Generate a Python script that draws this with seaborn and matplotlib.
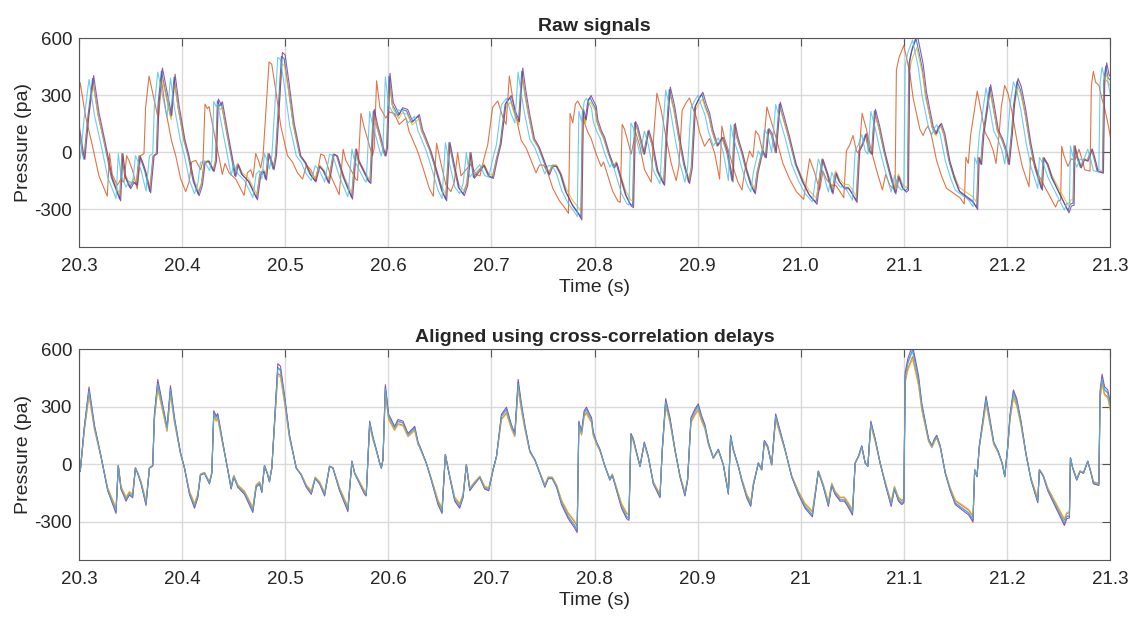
import numpy as np
import pandas as pd
import matplotlib
matplotlib.use("Agg")
import matplotlib.pyplot as plt
import seaborn as sns

# --- data (aligned trace = reference channel) ---
base_time = [
    20.293, 20.296, 20.299, 20.300, 20.3012, 20.3050, 20.3097, 20.3149, 20.3213, 20.3278,
    20.3359, 20.3381, 20.3407, 20.3456, 20.3488, 20.3520, 20.3547, 20.3569, 20.3602, 20.3650,
    20.3683, 20.3715, 20.3731, 20.3764, 20.3803, 20.3835, 20.3854, 20.3887, 20.3926, 20.3984,
    20.4023, 20.4071, 20.4120, 20.4152, 20.4178, 20.4217, 20.4265, 20.4288, 20.4307, 20.4330,
    20.4346, 20.4394, 20.4443, 20.4475, 20.4501, 20.4540, 20.4605, 20.4686, 20.4718, 20.4751,
    20.4773, 20.4799, 20.4825, 20.4847, 20.4870, 20.4896, 20.4928, 20.4954, 20.4993, 20.5042,
    20.5107, 20.5155, 20.5204, 20.5253, 20.5291, 20.5333, 20.5382, 20.5430, 20.5463, 20.5527,
    20.5608, 20.5647, 20.5673, 20.5721, 20.5770, 20.5786, 20.5819, 20.5851, 20.5883, 20.5916,
    20.5932, 20.5948, 20.5971, 20.6003, 20.6029, 20.6061, 20.6094, 20.6142, 20.6191, 20.6256,
    20.6288, 20.6304, 20.6368, 20.6417, 20.6482, 20.6521, 20.6553, 20.6595, 20.6644, 20.6692,
    20.6725, 20.6757, 20.6790, 20.6838, 20.6887, 20.6935, 20.6974, 20.7016, 20.7049, 20.7097,
    20.7146, 20.7194, 20.7227, 20.7259, 20.7291, 20.7324, 20.7373, 20.7421, 20.7470, 20.7518,
    20.7551, 20.7590, 20.7632, 20.7680, 20.7745, 20.7803, 20.7832, 20.7848, 20.7874, 20.7900,
    20.7922, 20.7945, 20.7971, 20.7987, 20.8020, 20.8052, 20.8101, 20.8149, 20.8172, 20.8214,
    20.8262, 20.8311, 20.8334, 20.8353, 20.8376, 20.8408, 20.8441, 20.8483, 20.8521, 20.8570,
    20.8619, 20.8635, 20.8657, 20.8690, 20.8732, 20.8780, 20.8829, 20.8877, 20.8903, 20.8935,
    20.8974, 20.9006, 20.9039, 20.9071, 20.9104, 20.9152, 20.9201, 20.9249, 20.9298, 20.9320,
    20.9346, 20.9395, 20.9427, 20.9476, 20.9515, 20.9541, 20.9589, 20.9621, 20.9647, 20.9679,
    20.9718, 20.9757, 20.9799, 20.9848, 20.9912, 20.9977, 21.0042, 21.0113, 21.0171, 21.0220,
    21.0268, 21.0301, 21.0333, 21.0382, 21.0424, 21.0456, 21.0502, 21.0528, 21.0560, 21.0592,
    21.0625, 21.0651, 21.0680, 21.0722, 21.0770, 21.0819, 21.0877, 21.0909, 21.0948, 21.0980,
    21.1000, 21.1013, 21.1039, 21.1062, 21.1084, 21.1110, 21.1143, 21.1175, 21.1207, 21.1240,
    21.1272, 21.1298, 21.1320, 21.1353, 21.1402, 21.1450, 21.1499, 21.1564, 21.1629, 21.1671,
    21.1687, 21.1710, 21.1732, 21.1765, 21.1797, 21.1830, 21.1872, 21.1914, 21.1953, 21.1979,
    21.2008, 21.2030, 21.2063, 21.2095, 21.2137, 21.2186, 21.2234, 21.2299, 21.2315, 21.2354,
    21.2396, 21.2444, 21.2509, 21.2557, 21.2580, 21.2606, 21.2616, 21.2638, 21.2677, 21.2709,
    21.2742, 21.2784, 21.2816, 21.2839, 21.2891, 21.2904, 21.2923, 21.2946, 21.2978, 21.3004,
    21.3030, 21.3060, 21.3090, 21.3120,
]
base_pressure = [
    200, 120, 20, -11, -37, 180, 383, 196, 40, -132,
    -245, -8, -124, -184, -153, -167, -20, -46, -98, -205,
    -20, -8, 248, 421, 318, 231, 183, 390, 231, 58,
    -20, -150, -219, -167, -55, -46, -98, -46, 266, 240,
    252, 110, -29, -124, -63, -115, -150, -240, -115, -98,
    -141, -8, -46, -89, -20, 214, 499, 487, 343, 144,
    -20, -55, -115, -150, -72, -98, -158, -11, -20, -132,
    -236, 15, -46, -98, -150, -158, 214, 136, 75, 6,
    -20, 23, 395, 248, 222, 188, 222, 214, 153, 188,
    110, 92, 6, -80, -201, -245, 49, -63, -184, -219,
    -167, -3, -132, -98, -67, -124, -132, -29, 40, 248,
    283, 196, 153, 421, 300, 196, 66, 23, -46, -115,
    -72, -72, -115, -201, -271, -314, -340, 214, 162, 266,
    283, 257, 231, 162, 110, 75, -11, -80, -55, -132,
    -219, -271, -279, 153, 127, 58, -11, 110, 40, -98,
    -150, -167, 75, 326, 231, 75, -63, -158, -80, 231,
    274, 300, 240, 196, 110, 32, 75, -3, -150, 144,
    75, -11, -80, -167, -210, -106, 6, -29, 118, 92,
    -3, 250, 170, 75, -63, -150, -219, -262, -37, -115,
    -210, -106, -150, -184, -184, -210, -253, 6, 40, 92,
    6, -11, 214, 127, 6, -98, -210, -124, -184, -201,
    -192, 456, 525, 559, 590, 525, 438, 300, 214, 127,
    92, 127, 144, 92, -46, -132, -201, -227, -253, -288,
    -29, -63, 92, 214, 338, 240, 110, 66, 6, -63,
    92, 248, 369, 326, 214, 49, -80, -192, -29, -63,
    -132, -184, -253, -305, -271, -267, 32, -20, -80, -37,
    -46, 15, -46, -98, -106, 369, 447, 386, 369, 300,
    250, 170, 80, 40,
]

# channels in drawing order (last one on top)
channels = ["ch1", "ch2", "ch3", "ch4", "ch5"]
channel_colors = ["#0072BD", "#D95319", "#EDB120", "#7E2F8E", "#4DBEEE"]
delays_s = [0.0035, -0.0085, 0.004, 0.0045, 0.0]
gains = [1.01, 0.95, 0.93, 1.05, 1.0]

xticks = [20.3, 20.4, 20.5, 20.6, 20.7, 20.8, 20.9, 21.0, 21.1, 21.2, 21.3]
top_xtick_labels = ["20.3", "20.4", "20.5", "20.6", "20.7", "20.8", "20.9", "21.0", "21.1", "21.2", "21.3"]
bottom_xtick_labels = ["20.3", "20.4", "20.5", "20.6", "20.7", "20.8", "20.9", "21", "21.1", "21.2", "21.3"]
yticks = [-300, 0, 300, 600]


def build_frame(aligned):
    t = np.array(base_time)
    p = np.array(base_pressure, dtype=float)
    frames = []
    for name, d, g in zip(channels, delays_s, gains):
        frames.append(pd.DataFrame({
            "time": t if aligned else t + d,
            "pressure": p * g,
            "channel": name,
        }))
    return pd.concat(frames, ignore_index=True)


def style_axis(ax, title, xlabels):
    ax.set_xlim(20.3, 21.3)
    ax.set_ylim(-500, 600)
    ax.set_xticks(xticks)
    ax.set_xticklabels(xlabels)
    ax.set_yticks(yticks)
    ax.set_yticklabels([str(v) for v in yticks])
    ax.grid(True, color="#dadada", linewidth=1.0)
    ax.set_axisbelow(True)
    for s in ax.spines.values():
        s.set_color("#555555")
        s.set_linewidth(0.8)
        s.set_visible(True)
    ax.tick_params(axis="both", direction="in", length=6, width=0.8,
                   colors="#555555", labelcolor="#262626", labelsize=13.5,
                   top=True, right=True)
    ax.tick_params(axis="x", pad=8)
    ax.tick_params(axis="y", pad=5)
    ax.set_title(title, fontsize=14, fontweight="bold", pad=5)
    ax.set_xlabel("Time (s)", fontsize=14, labelpad=3, color="#262626")
    ax.set_ylabel("Pressure (pa)", fontsize=14, labelpad=2, color="#262626")


sns.set_style("white")
plt.rcParams["font.family"] = ["Liberation Sans", "DejaVu Sans"]

fig = plt.figure(figsize=(11.32, 6.2), dpi=100)
ax_raw = fig.add_axes([0.0698, 0.6016, 0.9108, 0.337])
ax_al = fig.add_axes([0.0698, 0.0968, 0.9108, 0.340])

for ax, aligned in [(ax_raw, False), (ax_al, True)]:
    sns.lineplot(data=build_frame(aligned), x="time", y="pressure", hue="channel",
                 hue_order=channels, palette=channel_colors, estimator=None,
                 sort=False, linewidth=0.8, alpha=0.8, legend=False, ax=ax)

style_axis(ax_raw, "Raw signals", top_xtick_labels)
style_axis(ax_al, "Aligned using cross-correlation delays", bottom_xtick_labels)

fig.savefig("out.png", dpi=100)
plt.close(fig)
